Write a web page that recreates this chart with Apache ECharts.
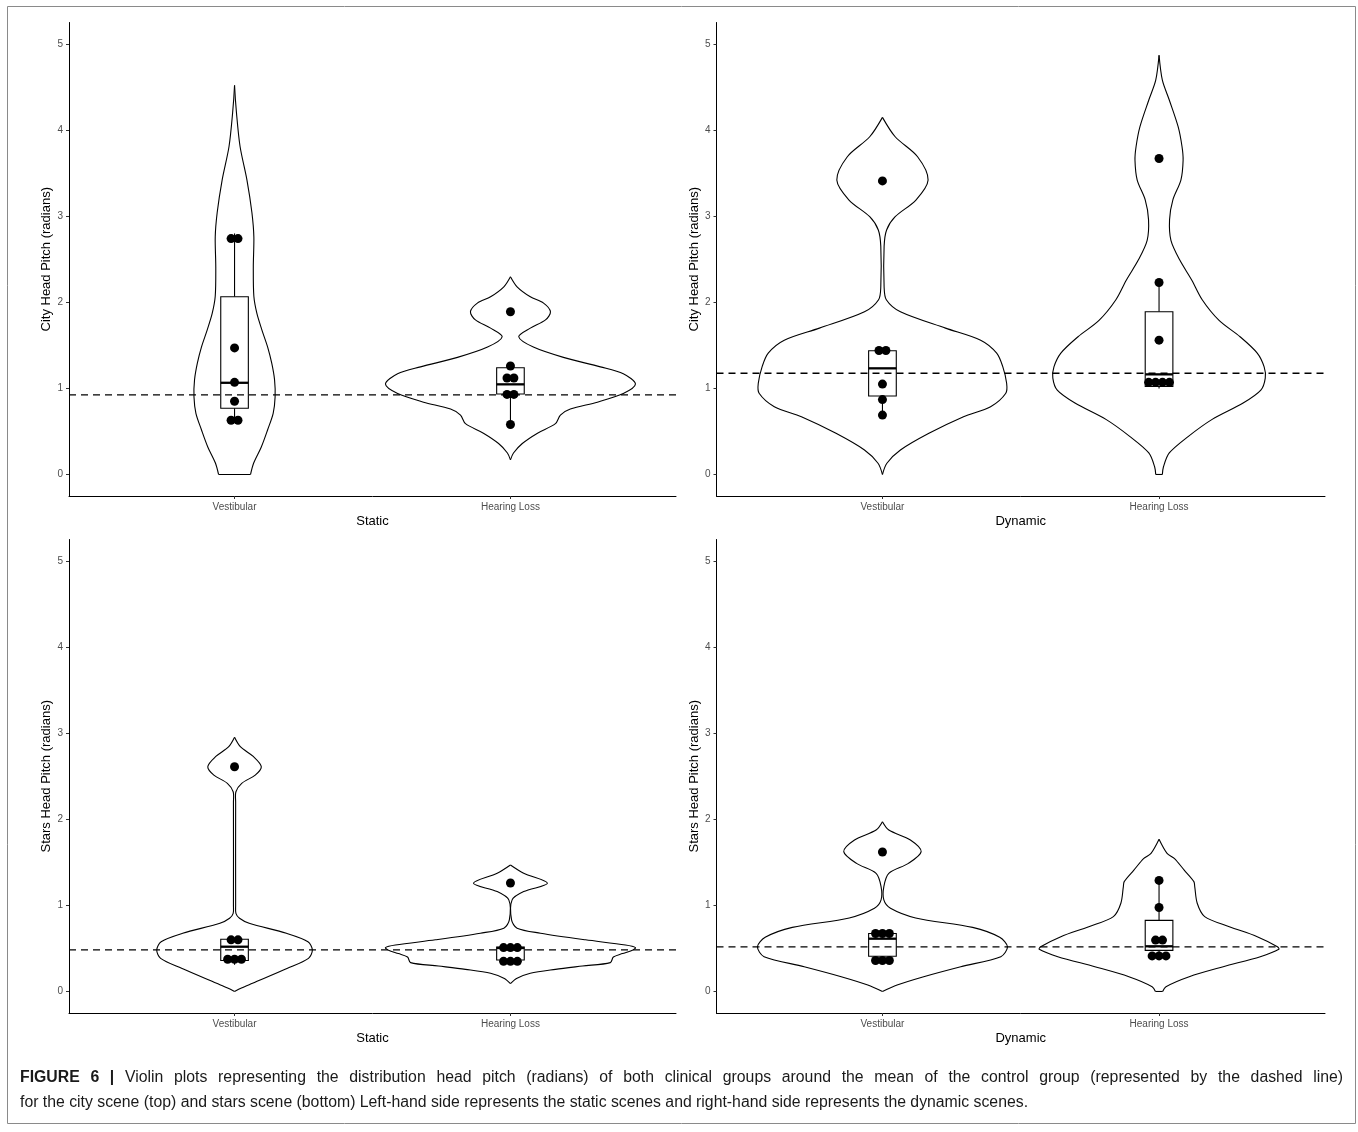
<!DOCTYPE html>
<html><head><meta charset="utf-8">
<script src="https://cdn.jsdelivr.net/npm/echarts@6/dist/echarts.min.js"></script>
<style>html,body{margin:0;padding:0;background:#fff}#c{width:1358px;height:1132px}</style>
</head><body><div id="c"></div>
<script>
// ---------- data ----------
const categories = ['Vestibular', 'Hearing Loss'];
const yTicks = [0, 1, 2, 3, 4, 5];
const xTitles = ['Static', 'Dynamic', 'Static', 'Dynamic'];
const yTitles = ['City Head Pitch (radians)', 'City Head Pitch (radians)', 'Stars Head Pitch (radians)', 'Stars Head Pitch (radians)'];
const controlMeans = [0.925, 1.176, 0.483, 0.518];

// violin outlines: levels (radians) and half-widths (x-axis category units)
const cityStaticVestLevels = [0, 0.13, 0.32, 0.52, 0.71, 0.90, 1.10, 1.29, 1.48, 1.68, 1.87, 2.07, 2.41, 2.76, 3.04, 3.42, 3.81, 4.20, 4.52];
const cityStaticVestWidths = [0.058, 0.069, 0.097, 0.120, 0.140, 0.147, 0.145, 0.135, 0.120, 0.099, 0.081, 0.070, 0.068, 0.070, 0.063, 0.045, 0.020, 0.007, 0];
const cityStaticHLLevels = [0.17, 0.25, 0.36, 0.48, 0.59, 0.69, 0.76, 0.84, 0.94, 1.05, 1.17, 1.25, 1.36, 1.48, 1.60, 1.70, 1.795, 1.89, 1.99, 2.064, 2.18, 2.297];
const cityStaticHLWidths = [0, 0.011, 0.043, 0.098, 0.163, 0.181, 0.217, 0.315, 0.409, 0.453, 0.409, 0.326, 0.192, 0.083, 0.030, 0.072, 0.127, 0.145, 0.120, 0.072, 0.024, 0];
const cityDynVestLevels = [0, 0.13, 0.284, 0.478, 0.671, 0.787, 0.943, 1.059, 1.253, 1.41, 1.56, 1.70, 1.89, 2.03, 2.18, 2.65, 2.84, 2.994, 3.188, 3.42, 3.691, 3.923, 4.148];
const cityDynVestWidths = [0, 0.016, 0.065, 0.168, 0.293, 0.391, 0.446, 0.449, 0.435, 0.413, 0.355, 0.228, 0.065, 0.014, 0.006, 0.006, 0.015, 0.046, 0.121, 0.165, 0.127, 0.046, 0];
const cityDynHLLevels = [0, 0.09, 0.25, 0.44, 0.64, 0.83, 0.98, 1.12, 1.25, 1.41, 1.60, 1.79, 2.03, 2.26, 2.49, 2.72, 2.96, 3.19, 3.42, 3.65, 3.81, 4.04, 4.35, 4.58, 4.87];
const cityDynHLWidths = [0.012, 0.016, 0.037, 0.105, 0.192, 0.304, 0.368, 0.384, 0.380, 0.355, 0.293, 0.217, 0.156, 0.118, 0.075, 0.043, 0.038, 0.050, 0.079, 0.087, 0.083, 0.069, 0.037, 0.012, 0];
const starsStaticVestLevels = [0, 0.04, 0.095, 0.269, 0.385, 0.482, 0.578, 0.676, 0.792, 0.85, 0.908, 1.0, 2.2, 2.32, 2.418, 2.514, 2.611, 2.727, 2.843, 2.952];
const starsStaticVestWidths = [0, 0.025, 0.065, 0.192, 0.268, 0.282, 0.266, 0.188, 0.053, 0.018, 0.005, 0.004, 0.004, 0.005, 0.026, 0.075, 0.097, 0.069, 0.021, 0];
const starsStaticHLLevels = [0.09, 0.15, 0.211, 0.257, 0.296, 0.335, 0.40, 0.44, 0.48, 0.51, 0.54, 0.60, 0.677, 0.735, 0.832, 1.064, 1.16, 1.257, 1.373, 1.469];
const starsStaticHLWidths = [0, 0.022, 0.072, 0.163, 0.261, 0.362, 0.373, 0.406, 0.442, 0.453, 0.417, 0.272, 0.109, 0.024, 0.004, 0.006, 0.048, 0.134, 0.048, 0];
const starsDynVestLevels = [0, 0.075, 0.172, 0.288, 0.404, 0.52, 0.63, 0.745, 0.854, 0.966, 1.063, 1.218, 1.372, 1.488, 1.624, 1.76, 1.875, 1.972];
const starsDynVestWidths = [0, 0.053, 0.149, 0.283, 0.428, 0.452, 0.424, 0.326, 0.120, 0.029, 0.005, 0.005, 0.023, 0.094, 0.140, 0.101, 0.023, 0];
const starsDynHLLevels = [0, 0.056, 0.172, 0.288, 0.404, 0.49, 0.52, 0.637, 0.753, 0.87, 1.025, 1.218, 1.276, 1.41, 1.546, 1.604, 1.768];
const starsDynHLWidths = [0.013, 0.025, 0.109, 0.232, 0.366, 0.433, 0.428, 0.355, 0.254, 0.165, 0.138, 0.129, 0.126, 0.091, 0.055, 0.029, 0];

// individual observations (radians)
const cityStaticVestPoints = [2.74, 2.74, 1.47, 1.07, 0.85, 0.63, 0.63];
const cityStaticHLPoints = [1.89, 1.26, 1.12, 1.12, 0.93, 0.93, 0.58];
const cityDynVestPoints = [3.41, 1.44, 1.44, 1.05, 0.87, 0.69];
const cityDynHLPoints = [3.67, 2.23, 1.56, 1.07, 1.07, 1.07, 1.07];
const starsStaticVestPoints = [2.61, 0.60, 0.60, 0.374, 0.374, 0.374];
const starsStaticHLPoints = [1.26, 0.51, 0.51, 0.51, 0.35, 0.35, 0.35];
const starsDynVestPoints = [1.62, 0.673, 0.673, 0.673, 0.36, 0.36, 0.36];
const starsDynHLPoints = [1.29, 0.975, 0.597, 0.597, 0.413, 0.413, 0.413];

// box plots: [lower whisker, Q1, median, Q3, upper whisker]
const cityStaticVestBox = [0.60, 0.77, 1.065, 2.065, 2.80];
const cityStaticHLBox = [0.58, 0.935, 1.047, 1.24, 1.26];
const cityDynVestBox = [0.69, 0.911, 1.233, 1.438, 1.44];
const cityDynHLBox = [1.00, 1.022, 1.163, 1.891, 2.228];
const starsStaticVestBox = [0.31, 0.36, 0.52, 0.606, 0.606];
const starsStaticHLBox = [0.35, 0.366, 0.505, 0.515, 0.515];
const starsDynVestBox = [0.35, 0.41, 0.613, 0.673, 0.673];
const starsDynHLBox = [0.38, 0.477, 0.525, 0.826, 1.29];

const captionBold = 'FIGURE 6 |';
const captionLine1 = 'Violin plots representing the distribution head pitch (radians) of both clinical groups around the mean of the control group (represented by the dashed line)';
const captionLine2 = 'for the city scene (top) and stars scene (bottom) Left-hand side represents the static scenes and right-hand side represents the dynamic scenes.';

// ---------- assemble ----------
const panels = [
  [[cityStaticVestLevels, cityStaticVestWidths, cityStaticVestPoints, cityStaticVestBox],
   [cityStaticHLLevels, cityStaticHLWidths, cityStaticHLPoints, cityStaticHLBox]],
  [[cityDynVestLevels, cityDynVestWidths, cityDynVestPoints, cityDynVestBox],
   [cityDynHLLevels, cityDynHLWidths, cityDynHLPoints, cityDynHLBox]],
  [[starsStaticVestLevels, starsStaticVestWidths, starsStaticVestPoints, starsStaticVestBox],
   [starsStaticHLLevels, starsStaticHLWidths, starsStaticHLPoints, starsStaticHLBox]],
  [[starsDynVestLevels, starsDynVestWidths, starsDynVestPoints, starsDynVestBox],
   [starsDynHLLevels, starsDynHLWidths, starsDynHLPoints, starsDynHLBox]]
];

const FONT = "'Liberation Sans', Arial, Helvetica, sans-serif";
const gridRects = [
  {left: 69, top: 22.5, width: 607, height: 473.5},
  {left: 716.5, top: 22.5, width: 608.5, height: 473.5},
  {left: 69, top: 539.5, width: 607, height: 473.5},
  {left: 716.5, top: 539.5, width: 608.5, height: 473.5}
];
const BOX_HW = 0.05;
const DOT_STEP = 0.025;

const grids = [], xAxes = [], yAxes = [], series = [];
gridRects.forEach((r, p) => {
  grids.push(Object.assign({containLabel: false}, r));
  xAxes.push({
    type: 'value', gridIndex: p, min: 0.4, max: 2.6,
    splitLine: {show: false},
    axisLine: {show: true, onZero: false, lineStyle: {color: '#000', width: 1}},
    axisTick: {show: true, customValues: [1, 2], length: 3, lineStyle: {color: '#333', width: 1}},
    axisLabel: {show: true, customValues: [1, 2], formatter: v => categories[Math.round(v) - 1] || '',
      color: '#4d4d4d', fontSize: 10, fontFamily: FONT, margin: 6},
    name: xTitles[p], nameLocation: 'middle', nameGap: 19,
    nameTextStyle: {color: '#000', fontSize: 13, fontFamily: FONT}
  });
  yAxes.push({
    type: 'value', gridIndex: p, min: -0.25, max: 5.25,
    splitLine: {show: false},
    axisLine: {show: true, onZero: false, lineStyle: {color: '#000', width: 1}},
    axisTick: {show: true, customValues: yTicks, length: 3, lineStyle: {color: '#333', width: 1}},
    axisLabel: {show: true, customValues: yTicks, color: '#4d4d4d', fontSize: 10, fontFamily: FONT, margin: 6},
    name: yTitles[p], nameLocation: 'middle', nameGap: 16, nameRotate: 90,
    nameTextStyle: {color: '#000', fontSize: 13, fontFamily: FONT}
  });

  panels[p].forEach((grp, g) => {
    const [levels, widths, pts, box] = grp;
    const c = g + 1;
    // violin outline
    series.push({
      type: 'custom', xAxisIndex: p, yAxisIndex: p, silent: true, z: 2,
      data: [[c, levels[0]]],
      renderItem: (params, api) => {
        const right = levels.map((v, i) => api.coord([c + widths[i], v]));
        const left = levels.map((v, i) => api.coord([c - widths[i], v]));
        const st = {stroke: '#000', fill: 'none', lineWidth: 1.1};
        const children = [
          {type: 'polyline', shape: {points: right, smooth: 0.3}, style: st},
          {type: 'polyline', shape: {points: left, smooth: 0.3}, style: st}
        ];
        if (widths[0] > 0) children.push({type: 'line', shape: {x1: left[0][0], y1: left[0][1], x2: right[0][0], y2: right[0][1]}, style: st});
        const n = levels.length - 1;
        if (widths[n] > 0) children.push({type: 'line', shape: {x1: left[n][0], y1: left[n][1], x2: right[n][0], y2: right[n][1]}, style: st});
        return {type: 'group', children};
      }
    });
    // box plot
    series.push({
      type: 'custom', xAxisIndex: p, yAxisIndex: p, silent: true, z: 3,
      data: [[c].concat(box)],
      renderItem: (params, api) => {
        const lo = api.value(1), q1 = api.value(2), md = api.value(3), q3 = api.value(4), hi = api.value(5);
        const tl = api.coord([c - BOX_HW, q3]), br = api.coord([c + BOX_HW, q1]);
        const top = api.coord([c, hi]), bot = api.coord([c, lo]), qt = api.coord([c, q3]), qb = api.coord([c, q1]);
        const ml = api.coord([c - BOX_HW, md]), mr = api.coord([c + BOX_HW, md]);
        const st = {stroke: '#000', lineWidth: 1.1};
        return {type: 'group', children: [
          {type: 'line', shape: {x1: qt[0], y1: qt[1], x2: top[0], y2: top[1]}, style: st},
          {type: 'line', shape: {x1: qb[0], y1: qb[1], x2: bot[0], y2: bot[1]}, style: st},
          {type: 'rect', shape: {x: tl[0], y: tl[1], width: br[0] - tl[0], height: br[1] - tl[1]}, style: {stroke: '#000', fill: '#fff', lineWidth: 1.1}},
          {type: 'line', shape: {x1: ml[0], y1: ml[1], x2: mr[0], y2: mr[1]}, style: {stroke: '#000', lineWidth: 2.3}}
        ]};
      }
    });
    // dots, stacked side by side when values coincide
    const counts = {}, seen = {};
    pts.forEach(v => { counts[v] = (counts[v] || 0) + 1; });
    const dotData = pts.map(v => {
      const k = counts[v]; const i = seen[v] || 0; seen[v] = i + 1;
      return [c + (i - (k - 1) / 2) * DOT_STEP, v];
    });
    series.push({
      type: 'scatter', xAxisIndex: p, yAxisIndex: p, silent: true, z: 4,
      symbol: 'circle', symbolSize: 9, itemStyle: {color: '#000', opacity: 1},
      data: dotData
    });
  });
  // control-group mean
  series.push({
    type: 'line', xAxisIndex: p, yAxisIndex: p, silent: true, z: 5,
    symbol: 'none', lineStyle: {color: '#000', width: 1.4, type: [7, 5]},
    data: [[0.4, controlMeans[p]], [2.6, controlMeans[p]]]
  });
});

// ---------- caption (first line justified to the full text width) ----------
const CAP_SIZE = 15.8, CAP_LEFT = 20, CAP_RIGHT = 1343;
const mctx = document.createElement('canvas').getContext('2d');
const boldWords = captionBold.split(' ');
const regWords = captionLine1.split(' ');
mctx.font = 'bold ' + CAP_SIZE + 'px ' + FONT;
let used = boldWords.reduce((s, w) => s + mctx.measureText(w).width, 0);
mctx.font = CAP_SIZE + 'px ' + FONT;
used += regWords.reduce((s, w) => s + mctx.measureText(w).width, 0);
const nGaps = boldWords.length + regWords.length - 1;
const gapW = Math.max(3, (CAP_RIGHT - CAP_LEFT - used) / nGaps);
const line1Rich = boldWords.map(w => '{b|' + w + '}').concat(regWords.map(w => '{r|' + w + '}')).join('{s| }');

const chart = echarts.init(document.getElementById('c'), null, {renderer: 'canvas'});
chart.setOption({
  animation: false,
  backgroundColor: '#fff',
  grid: grids, xAxis: xAxes, yAxis: yAxes, series,
  graphic: [
    {type: 'rect', shape: {x: 7.5, y: 6.5, width: 1348, height: 1117}, style: {fill: 'none', stroke: '#8a8a8a', lineWidth: 1}, silent: true},
    {type: 'text', x: CAP_LEFT, y: 1078, silent: true, style: {
      text: line1Rich,
      verticalAlign: 'middle',
      rich: {
        b: {fontWeight: 'bold', fontSize: CAP_SIZE, fontFamily: FONT, fill: '#1a1a1a'},
        r: {fontSize: CAP_SIZE, fontFamily: FONT, fill: '#1a1a1a'},
        s: {fontSize: CAP_SIZE, fontFamily: FONT, width: gapW}
      }
    }},
    {type: 'text', x: CAP_LEFT, y: 1103, silent: true, style: {
      text: captionLine2, verticalAlign: 'middle', fontSize: CAP_SIZE, fontFamily: FONT, fill: '#1a1a1a'
    }}
  ]
});
</script></body></html>
